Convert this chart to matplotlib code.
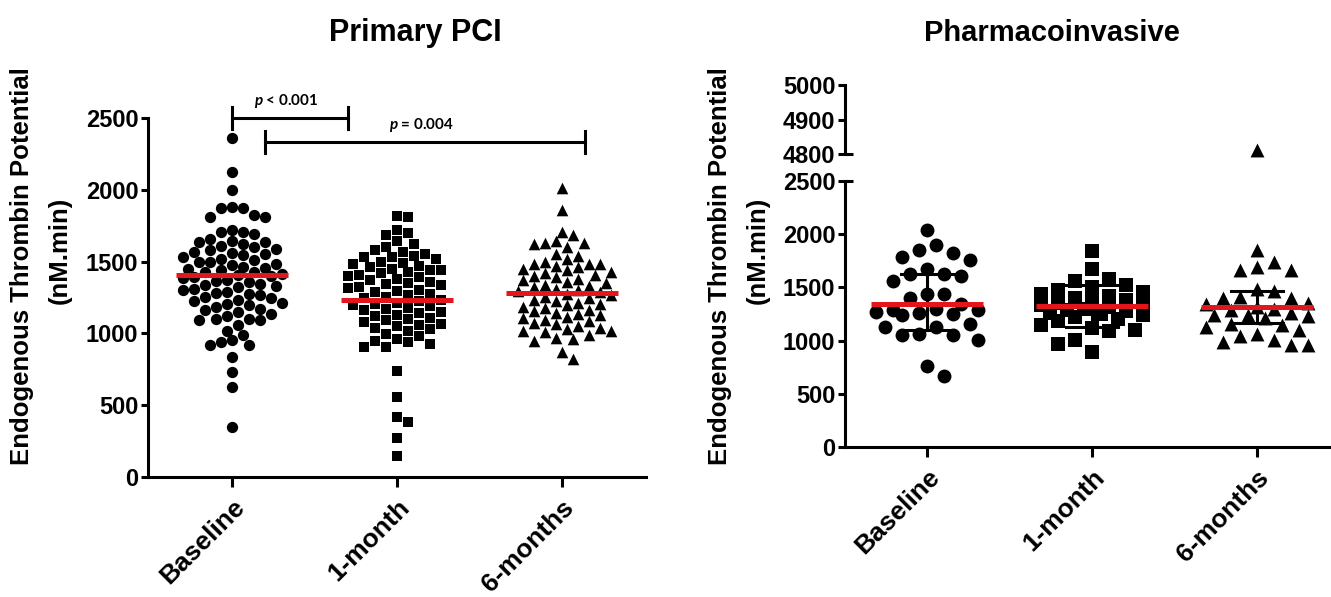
import numpy as np
import matplotlib.pyplot as plt
import matplotlib as mpl

mpl.rcParams.update({
    'font.family': 'Liberation Sans',
    'font.weight': 'bold',
    'mathtext.fontset': 'custom',
    'mathtext.it': 'Lato:italic:bold',
    'mathtext.rm': 'Lato:bold',
})

# --- Daten ---
groups = ['Baseline', '1-month', '6-months']
markers = ['o', 's', '^']

pci_baseline = [2360, 2127, 1999, 1882, 1871, 1871, 1824, 1813, 1813, 1720, 1708, 1708,
                1690, 1660, 1640, 1638, 1638, 1625, 1610, 1600, 1590, 1580, 1570, 1560,
                1550, 1545, 1535, 1520, 1510, 1500, 1495, 1485, 1475, 1465, 1455, 1450,
                1440, 1430, 1425, 1415, 1405, 1400, 1395, 1385, 1375, 1365, 1355, 1345,
                1340, 1330, 1320, 1310, 1300, 1290, 1280, 1275, 1265, 1255, 1245, 1235,
                1225, 1215, 1205, 1195, 1185, 1170, 1160, 1150, 1135, 1120, 1102, 1102,
                1090, 1090, 1060, 1020, 990, 951, 939, 916, 916, 834, 729, 624, 345]
pci_1month = [1817, 1813, 1720, 1696, 1685, 1640, 1620, 1600, 1580, 1568, 1556, 1540,
              1533, 1533, 1520, 1500, 1490, 1480, 1470, 1460, 1450, 1440, 1440, 1430,
              1420, 1410, 1400, 1390, 1380, 1370, 1360, 1350, 1345, 1335, 1325, 1315,
              1305, 1295, 1285, 1275, 1265, 1255, 1245, 1235, 1225, 1215, 1205, 1200,
              1190, 1180, 1170, 1160, 1150, 1140, 1130, 1120, 1110, 1100, 1090, 1080,
              1067, 1060, 1050, 1040, 1030, 1020, 997, 980, 960, 950, 940, 927, 904,
              904, 741, 555, 415, 380, 275, 147]
pci_6months = [2011, 1859, 1708, 1685, 1640, 1630, 1630, 1625, 1600, 1556, 1540, 1520,
               1500, 1486, 1486, 1486, 1470, 1460, 1450, 1440, 1430, 1420, 1410, 1400,
               1390, 1380, 1370, 1360, 1350, 1340, 1330, 1320, 1310, 1300, 1295, 1285,
               1275, 1265, 1255, 1245, 1235, 1225, 1215, 1205, 1195, 1185, 1175, 1165,
               1155, 1145, 1135, 1125, 1115, 1105, 1095, 1085, 1075, 1065, 1050, 1040,
               1030, 1020, 1020, 1010, 990, 970, 962, 950, 869, 822]
pci_means = [1405, 1230, 1281]

ph_baseline = [2036, 1895, 1848, 1823, 1786, 1754, 1676, 1629, 1629, 1604, 1560, 1441,
               1441, 1400, 1345, 1300, 1290, 1285, 1270, 1260, 1250, 1240, 1160, 1130,
               1125, 1059, 1055, 1050, 1003, 758, 664]
ph_1month = [1842, 1676, 1582, 1560, 1520, 1500, 1480, 1460, 1440, 1420, 1400, 1380,
             1370, 1350, 1340, 1330, 1320, 1300, 1290, 1280, 1260, 1250, 1240, 1220,
             1200, 1180, 1150, 1120, 1096, 1090, 1003, 965, 893]
ph_6months = [4812, 1855, 1739, 1692, 1660, 1660, 1488, 1463, 1410, 1403, 1400, 1350,
              1340, 1320, 1300, 1290, 1260, 1237, 1237, 1230, 1210, 1159, 1150, 1128,
              1096, 1065, 1040, 1003, 987, 955, 955]
ph_means = [1341, 1325, 1313]
ph_sd_hi = [1629, 1520, 1463]
ph_sd_lo = [1103, 1130, 1170]

pvals = ['$p$ < 0.001', '$p$ = 0.004']
brackets = [(0.0, 0.70, 2500), (0.20, 2.14, 2333)]

W, H = 1331, 597
fig = plt.figure(figsize=(W / 100, H / 100), dpi=100)


def box(l, t, r, b):
    return [l / W, 1 - b / H, (r - l) / W, (b - t) / H]


def swarm(ax, vals, d, maxw):
    # einfache Beeswarm-Anordnung in Pixeln, danach zurueck in Datenkoordinaten
    vals = np.asarray(vals, float)
    ypx = ax.transData.transform(np.column_stack([np.zeros(len(vals)), vals]))[:, 1]
    xunit = ax.transData.transform([[1, 0]])[0, 0] - ax.transData.transform([[0, 0]])[0, 0]
    placed = []
    offs = np.zeros(len(vals))
    cands = [0.0]
    k = 1
    while k * d * 0.5 <= maxw:
        cands += [k * d * 0.5, -k * d * 0.5]
        k += 1
    for i in np.argsort(-vals):
        y = ypx[i]
        best = None
        for c in cands:
            if all((c - px) ** 2 + (y - py) ** 2 >= d * d for px, py in placed):
                best = c
                break
        if best is None:
            best = max(cands, key=lambda c: min((c - px) ** 2 + (y - py) ** 2 for px, py in placed))
        placed.append((best, y))
        offs[i] = best
    return offs / xunit


def style(ax):
    for s in ['top', 'right']:
        ax.spines[s].set_visible(False)
    for s in ['left', 'bottom']:
        ax.spines[s].set_linewidth(2.2)
    ax.tick_params(axis='y', length=5, width=2.2, labelsize=17, pad=2)
    ax.tick_params(axis='x', length=7, width=2.2, labelsize=19, pad=6)


# --- Primary PCI ---
ax1 = fig.add_axes(box(148, 118, 646, 477))
ax1.set_xlim(-0.51, 2.51)
ax1.set_ylim(0, 2500)
style(ax1)
ax1.set_yticks([0, 500, 1000, 1500, 2000, 2500])
ax1.set_xticks(range(3))
ax1.set_xticklabels(groups, rotation=45, ha='right', rotation_mode='anchor')

sizes1 = [66, 58, 70]
for i, (vals, m) in enumerate(zip([pci_baseline, pci_1month, pci_6months], markers)):
    off = swarm(ax1, vals, 11, 52)
    ax1.scatter(i + off, vals, marker=m, s=sizes1[i], color='black', linewidths=0, zorder=3,
                clip_on=False)
    ax1.plot([i - 0.34, i + 0.34], [pci_means[i]] * 2, color='#e3161b', lw=3.6, zorder=4,
             solid_capstyle='butt')

for (x0, x1, y), txt in zip(brackets, pvals):
    ax1.plot([x0, x1], [y, y], color='black', lw=2.2, clip_on=False)
    ax1.plot([x0, x0], [y - 75, y + 75], color='black', lw=2.2, clip_on=False)
    ax1.plot([x1, x1], [y - 75, y + 75], color='black', lw=2.2, clip_on=False)
    ax1.text((x0 + x1) / 2 - 0.02, y + 115, txt, ha='center', va='center', fontsize=11,
             family='Lato', fontweight='bold')

# --- Pharmacoinvasive (unterbrochene Achse) ---
ax2u = fig.add_axes(box(845, 85, 1331, 154))
ax2 = fig.add_axes(box(845, 181, 1331, 447))
for ax in (ax2u, ax2):
    ax.set_xlim(-0.5, 2.45)
    style(ax)
ax2.set_ylim(0, 2500)
ax2.set_yticks([0, 500, 1000, 1500, 2000, 2500])
ax2u.set_ylim(4800, 5000)
ax2u.set_yticks([4800, 4900, 5000])
ax2u.spines['bottom'].set_visible(False)
ax2u.set_xticks([])
ax2.set_xticks(range(3))
ax2.set_xticklabels(groups, rotation=45, ha='right', rotation_mode='anchor')
for ax, yy in ((ax2u, 0), (ax2, 1)):
    ax.plot([0, 0.016], [yy, yy], transform=ax.transAxes, color='black', lw=2.2,
            clip_on=False, solid_capstyle='butt')

for i, (vals, m) in enumerate(zip([ph_baseline, ph_1month, ph_6months], markers)):
    vals = np.asarray(vals)
    low = vals[vals < 4800]
    high = vals[vals >= 4800]
    off = swarm(ax2, low, 17, 52)
    ax2.scatter(i + off, low, marker=m, s=100, color='black', linewidths=0, zorder=3,
                clip_on=False)
    if len(high):
        ax2u.scatter(np.full(len(high), i), high, marker=m, s=100, color='black',
                     linewidths=0, zorder=3, clip_on=False)
    ax2.plot([i, i], [ph_sd_lo[i], ph_sd_hi[i]], color='black', lw=2.2, zorder=3)
    for v in (ph_sd_lo[i], ph_sd_hi[i]):
        ax2.plot([i - 0.16, i + 0.16], [v, v], color='black', lw=2.2, zorder=3)
    ax2.plot([i - 0.34, i + 0.34], [ph_means[i]] * 2, color='#e3161b', lw=3.6, zorder=4,
             solid_capstyle='butt')

# --- Titel und Achsenbeschriftungen ---
fig.text(415 / W, 1 - 33 / H, 'Primary PCI', ha='center', va='center', fontsize=22)
fig.text(1052 / W, 1 - 33 / H, 'Pharmacoinvasive', ha='center', va='center', fontsize=21)
for x1, x2 in ((22, 60), (720, 758)):
    fig.text(x1 / W, 1 - 266 / H, 'Endogenous Thrombin Potential', rotation=90,
             ha='center', va='center', fontsize=18.5)
    fig.text(x2 / W, 1 - 250 / H, '(nM.min)', rotation=90, ha='center', va='center',
             fontsize=18.5)

plt.savefig('out.png', dpi=100)
